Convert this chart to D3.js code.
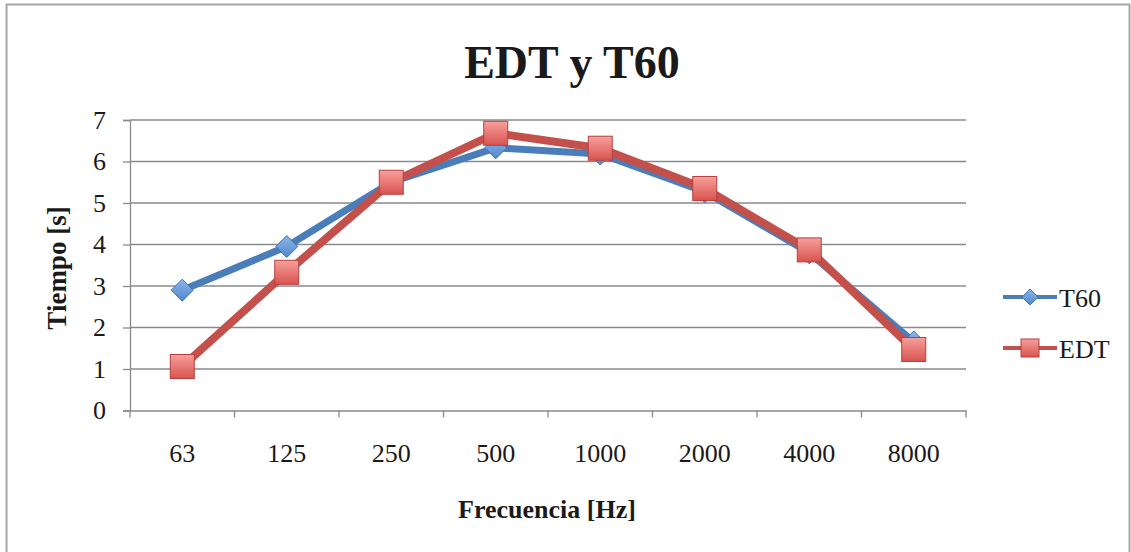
<!DOCTYPE html>
<html>
<head>
<meta charset="utf-8">
<script src="https://cdn.jsdelivr.net/npm/d3@7"></script>
<style>
  body { margin: 0; background: #fff; }
  text { font-family: "Liberation Serif", "DejaVu Serif", serif; fill: #1a1a1a; }
</style>
</head>
<body>
<div id="graph"></div>
<script>
var freqs = ["63", "125", "250", "500", "1000", "2000", "4000", "8000"];
var t60 = [2.9, 3.95, 5.5, 6.33, 6.18, 5.27, 3.8, 1.65];
var edt = [1.06, 3.33, 5.5, 6.68, 6.32, 5.35, 3.87, 1.47];
var yTicks = [0, 1, 2, 3, 4, 5, 6, 7];

var width = 1131, height = 552;
var plot = {left: 130, right: 966, top: 120, bottom: 410.5};

var svg = d3.select("div#graph").append("svg")
	.attr("width", width)
	.attr("height", height);

var defs = svg.append("defs");
var gr = defs.append("linearGradient").attr("id", "redg").attr("x1", 0).attr("y1", 0).attr("x2", 0).attr("y2", 1);
gr.append("stop").attr("offset", "0%").attr("stop-color", "#f7a09c");
gr.append("stop").attr("offset", "100%").attr("stop-color", "#d9534f");
var gb = defs.append("linearGradient").attr("id", "blueg").attr("x1", 0).attr("y1", 0).attr("x2", 0).attr("y2", 1);
gb.append("stop").attr("offset", "0%").attr("stop-color", "#8db6ea");
gb.append("stop").attr("offset", "100%").attr("stop-color", "#4f86cf");

// outer border
svg.append("rect")
	.attr("x", 6.5).attr("y", 4.5)
	.attr("width", 1123).attr("height", 560)
	.attr("fill", "none").attr("stroke", "#a6a6a6").attr("stroke-width", 2);

// set the ranges
var xScale = d3.scaleBand().domain(freqs).range([plot.left, plot.right]);
var yScale = d3.scaleLinear().domain([0, 7]).range([plot.bottom, plot.top]);

// gridlines
svg.append("g").selectAll("line").data(yTicks.slice(1)).enter().append("line")
	.attr("x1", plot.left).attr("x2", plot.right)
	.attr("y1", function(d) { return yScale(d); })
	.attr("y2", function(d) { return yScale(d); })
	.attr("stroke", "#8a8a8a").attr("stroke-width", 1.3);

// Y axis
var yAxis = svg.append("g")
	.attr("transform", "translate(" + plot.left + ",0)")
	.call(d3.axisLeft(yScale).tickValues(yTicks).tickSize(7).tickPadding(17).tickFormat(d3.format("d")));
yAxis.selectAll("text").style("font-size", "26px").attr("fill", "#1a1a1a").attr("font-family", "Liberation Serif");

// X axis
var xAxis = svg.append("g")
	.attr("transform", "translate(0," + plot.bottom + ")")
	.call(d3.axisBottom(xScale).tickSize(0).tickPadding(33));
xAxis.selectAll("text").style("font-size", "26px").attr("fill", "#1a1a1a").attr("font-family", "Liberation Serif");
// ticks between categories
xAxis.selectAll("line.sep").data(d3.range(freqs.length + 1)).enter().append("line")
	.attr("class", "sep")
	.attr("x1", function(i) { return plot.left + i * xScale.step(); })
	.attr("x2", function(i) { return plot.left + i * xScale.step(); })
	.attr("y1", 0).attr("y2", 7)
	.attr("stroke", "#8a8a8a").attr("stroke-width", 1.3);

svg.selectAll(".domain").attr("stroke", "#8a8a8a").attr("stroke-width", 1.3);
yAxis.selectAll(".tick line").attr("stroke", "#8a8a8a").attr("stroke-width", 1.3);

function cx(d, i) { return xScale(freqs[i]) + xScale.bandwidth() / 2; }

var line = d3.line()
	.x(function(d, i) { return cx(d, i); })
	.y(function(d) { return yScale(d); });

// T60
svg.append("path").datum(t60)
	.attr("d", line)
	.attr("fill", "none").attr("stroke", "#4a7ebb").attr("stroke-width", 7)
	.attr("stroke-linejoin", "round");
svg.append("g").selectAll("path").data(t60).enter().append("path")
	.attr("d", "M0,-11L11,0L0,11L-11,0Z")
	.attr("transform", function(d, i) { return "translate(" + cx(d, i) + "," + yScale(d) + ")"; })
	.attr("fill", "url(#blueg)").attr("stroke", "#3f72b0").attr("stroke-width", 1);

// EDT
svg.append("path").datum(edt)
	.attr("d", line)
	.attr("fill", "none").attr("stroke", "#c4504c").attr("stroke-width", 8)
	.attr("stroke-linejoin", "round");
svg.append("g").selectAll("rect").data(edt).enter().append("rect")
	.attr("x", function(d, i) { return cx(d, i) - 12; })
	.attr("y", function(d) { return yScale(d) - 12; })
	.attr("width", 24).attr("height", 24)
	.attr("fill", "url(#redg)").attr("stroke", "#b5403d").attr("stroke-width", 1);

// title
svg.append("text")
	.attr("x", 572).attr("y", 78)
	.attr("text-anchor", "middle")
	.style("font-size", "46px").style("font-weight", "bold")
	.text("EDT y T60");

// axis titles
svg.append("text")
	.attr("x", 547).attr("y", 518)
	.attr("text-anchor", "middle")
	.style("font-size", "26px").style("font-weight", "bold")
	.text("Frecuencia [Hz]");
svg.append("text")
	.attr("transform", "translate(66,268) rotate(-90)")
	.attr("text-anchor", "middle")
	.style("font-size", "27px").style("font-weight", "bold")
	.text("Tiempo [s]");

// legend
var legend = svg.append("g");
legend.append("line").attr("x1", 1003).attr("x2", 1057).attr("y1", 297).attr("y2", 297)
	.attr("stroke", "#4a7ebb").attr("stroke-width", 4);
legend.append("path").attr("d", "M0,-8L8,0L0,8L-8,0Z")
	.attr("transform", "translate(1030,297)")
	.attr("fill", "url(#blueg)").attr("stroke", "#3f72b0").attr("stroke-width", 1);
legend.append("text").attr("x", 1059).attr("y", 307).style("font-size", "26px").text("T60");

legend.append("line").attr("x1", 1003).attr("x2", 1057).attr("y1", 348).attr("y2", 348)
	.attr("stroke", "#c4504c").attr("stroke-width", 4);
legend.append("rect").attr("x", 1021).attr("y", 339).attr("width", 18).attr("height", 18)
	.attr("fill", "url(#redg)").attr("stroke", "#b5403d").attr("stroke-width", 1);
legend.append("text").attr("x", 1059).attr("y", 358).style("font-size", "26px").text("EDT");
</script>
</body>
</html>
